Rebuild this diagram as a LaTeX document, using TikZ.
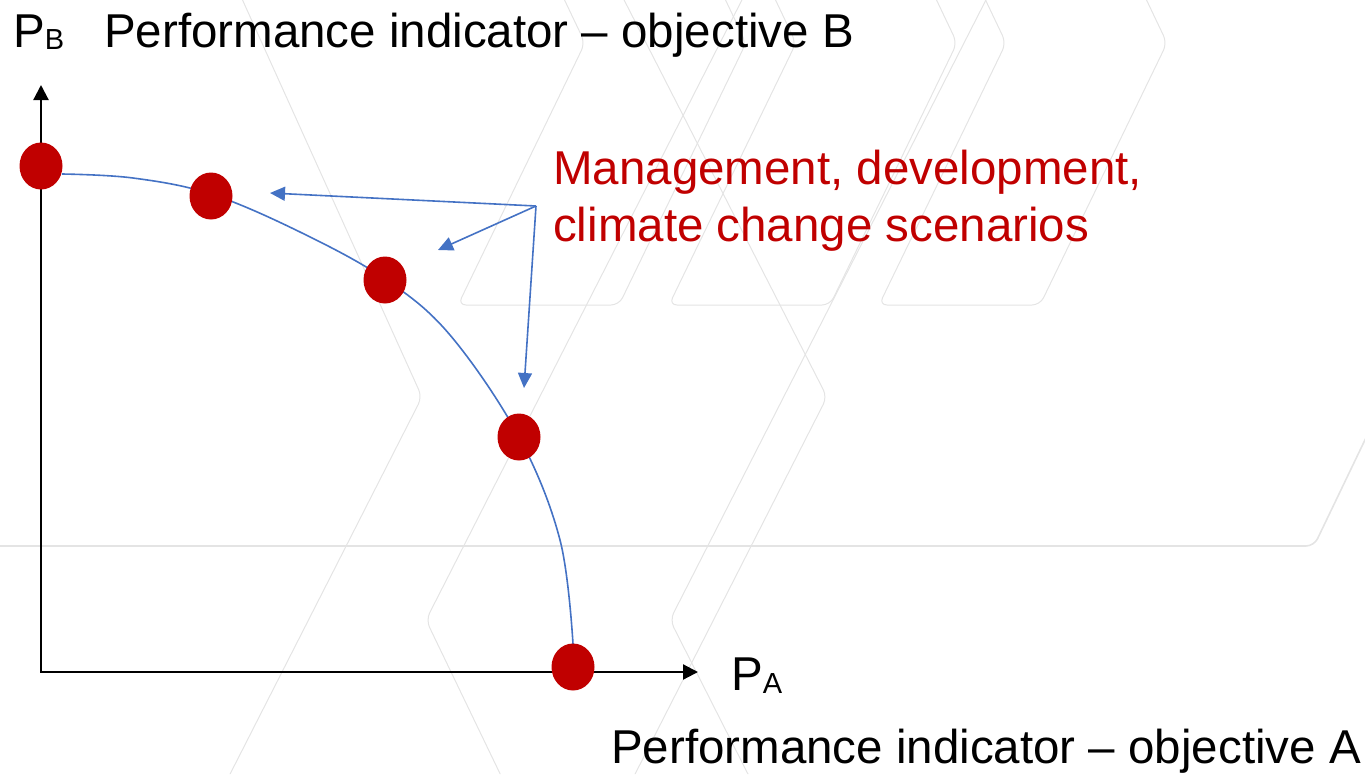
\documentclass[tikz,border=0pt]{standalone}
\usepackage{fontspec}
\setmainfont{Liberation Sans}
\usetikzlibrary{arrows.meta, shapes.geometric, backgrounds}

\definecolor{dotred}{HTML}{C00000}
\definecolor{frontblue}{HTML}{4472C4}
\definecolor{patterngray}{HTML}{E4E4E4}

\begin{document}
\begin{tikzpicture}[x=1pt, y=-1pt,
  scenario/.style={ellipse, fill=dotred, minimum width=43pt, minimum height=47pt, inner sep=0pt},
  axisline/.style={line width=2.2pt, {Triangle[length=15pt,width=15pt]}-{Triangle[length=15pt,width=15pt]}},
  pointer/.style={frontblue, line width=1.6pt, -{Triangle[length=15pt,width=14pt]}},
  caption/.style={inner sep=0pt, anchor=base west, font=\fontsize{47.5}{57}\selectfont}]

\useasboundingbox (0,0) rectangle (1365,774);

%Scenario dots
\foreach \name/\px/\py in {p1/41/166, p2/211/196, p3/385/280, p4/519/437, p5/573/667}
  \node[scenario] (\name) at (\px,\py) {};

%Axes
\coordinate (origin) at (41,672);
\coordinate (ytop) at (41,85);
\coordinate (xend) at (698,672);

%Axis titles
\node[caption] (ysym) at (13,47) {P{\fontsize{29}{29}\selectfont\raisebox{-2pt}{B}}};
\node[caption] (ydesc) at (104,47) {Performance indicator – objective B};
\node[caption] (xsym) at (731,690) {P{\fontsize{29}{29}\selectfont\raisebox{-3pt}{A}}};
\node[caption] (xdesc) at (611,763) {Performance indicator – objective A};

%Scenarios
\node[caption, text=dotred] (scen1) at (553,184) {Management, development,};
\node[caption, text=dotred] (scen2) at (553,241) {climate change scenarios};

\coordinate (src) at (536,206);
\coordinate (aim1) at (270,193);
\coordinate (aim2) at (438,250);
\coordinate (aim3) at (524,388);
\foreach \t in {aim1, aim2, aim3}
  \draw[pointer] (src) -- (\t);

\begin{pgfonlayer}{background}
  %Slide pattern
  \begin{scope}[patterngray, line width=1pt, rounded corners=8pt]
    \clip (0,0) rectangle (1365,774);
    \foreach \bl in {458, 669, 879}
      \draw (\bl+97,-20) -- (\bl+127,43) -- (\bl,305) -- (\bl+161,305) -- (\bl+288,43) -- (\bl+258,-20);
    \draw (238,-10) -- (422,397) -- (225,784);
    \draw (619,-10) -- (827,397) -- (630,784);
    \draw (747,-10) -- (426,620) -- (505,784);
    \draw (991,-10) -- (670,620) -- (753,784);
    \draw[line width=1.6pt] (-10,546) -- (1314,546) -- (1375,419);
  \end{scope}

  \draw[axisline] (ytop) -- (origin) -- (xend);

  %Front curve
  \draw[frontblue, line width=1.6pt] plot[smooth, tension=0.6] coordinates
    {(62,174) (133,178) (211,194) (300,232) (385,279) (450,335) (519,437) (560,540) (573,644)};
\end{pgfonlayer}

\end{tikzpicture}
\end{document}
